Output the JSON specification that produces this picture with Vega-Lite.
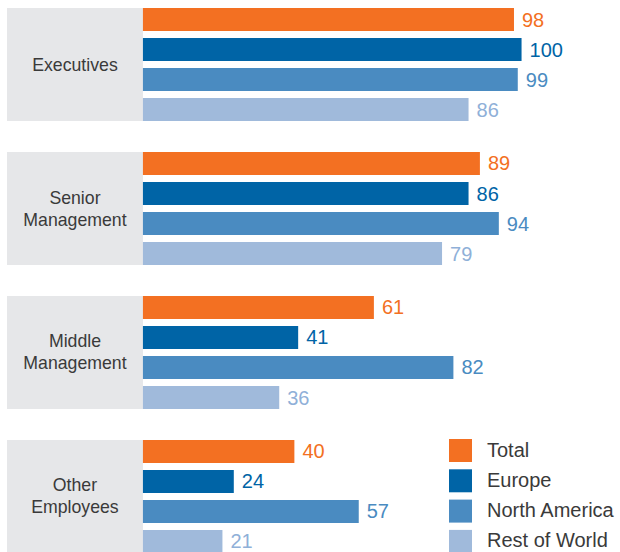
{
  "$schema": "https://vega.github.io/schema/vega-lite/v6.json",
  "width": 613,
  "height": 545,
  "autosize": {"type": "none"},
  "padding": {"left": 7, "top": 8, "right": 0, "bottom": 0},
  "background": "white",
  "config": {"view": {"stroke": null}, "font": "Liberation Sans"},
  "datasets": {
    "bars": [
      {"group": "Executives", "series": "Total", "value": 98},
      {"group": "Executives", "series": "Europe", "value": 100},
      {"group": "Executives", "series": "North America", "value": 99},
      {"group": "Executives", "series": "Rest of World", "value": 86},
      {"group": "Senior Management", "series": "Total", "value": 89},
      {"group": "Senior Management", "series": "Europe", "value": 86},
      {"group": "Senior Management", "series": "North America", "value": 94},
      {"group": "Senior Management", "series": "Rest of World", "value": 79},
      {"group": "Middle Management", "series": "Total", "value": 61},
      {"group": "Middle Management", "series": "Europe", "value": 41},
      {"group": "Middle Management", "series": "North America", "value": 82},
      {"group": "Middle Management", "series": "Rest of World", "value": 36},
      {"group": "Other Employees", "series": "Total", "value": 40},
      {"group": "Other Employees", "series": "Europe", "value": 24},
      {"group": "Other Employees", "series": "North America", "value": 57},
      {"group": "Other Employees", "series": "Rest of World", "value": 21}
    ],
    "groups": [
      {"group": "Executives", "label": "Executives", "lines": 1},
      {"group": "Senior Management", "label": "Senior\nManagement", "lines": 2},
      {"group": "Middle Management", "label": "Middle\nManagement", "lines": 2},
      {"group": "Other Employees", "label": "Other\nEmployees", "lines": 2}
    ]
  },
  "resolve": {"scale": {"color": "independent"}},
  "layer": [
    {
      "data": {"name": "groups"},
      "mark": {"type": "bar", "color": "#E6E7E9"},
      "encoding": {
        "y": {"field": "group", "type": "nominal", "sort": null, "axis": null,
              "scale": {"domain": ["Executives", "Senior Management", "Middle Management", "Other Employees"], "paddingInner": 0.215, "paddingOuter": 0}},
        "x": {"datum": -35.9, "type": "quantitative", "axis": null, "scale": {"domain": [-35.9, 126], "nice": false, "zero": false}},
        "x2": {"datum": 0}
      }
    },
    {
      "data": {"name": "groups"},
      "transform": [{"filter": "datum.lines == 1"}],
      "mark": {"type": "text", "fontSize": 17.7, "color": "#3a3a3a", "align": "center", "baseline": "middle", "dy": 1},
      "encoding": {
        "y": {"field": "group", "type": "nominal", "sort": null, "axis": null},
        "x": {"datum": -17.95, "type": "quantitative"},
        "text": {"field": "label"}
      }
    },
    {
      "data": {"name": "groups"},
      "transform": [{"filter": "datum.lines == 2"}],
      "mark": {"type": "text", "fontSize": 17.7, "color": "#3a3a3a", "lineBreak": "\n", "lineHeight": 22, "align": "center", "baseline": "middle", "dy": -10},
      "encoding": {
        "y": {"field": "group", "type": "nominal", "sort": null, "axis": null},
        "x": {"datum": -17.95, "type": "quantitative"},
        "text": {"field": "label"}
      }
    },
    {
      "data": {"name": "bars"},
      "mark": {"type": "bar"},
      "encoding": {
        "y": {"field": "group", "type": "nominal", "sort": null, "axis": null},
        "yOffset": {"field": "series", "type": "nominal", "sort": null,
                    "scale": {"domain": ["Total", "Europe", "North America", "Rest of World"], "paddingInner": 0.233, "paddingOuter": 0}},
        "x": {"field": "value", "type": "quantitative"},
        "color": {"field": "series", "type": "nominal", "sort": null,
                  "scale": {"domain": ["Total", "Europe", "North America", "Rest of World"], "range": ["#F37022", "#0064A6", "#4A8BC1", "#A0BADB"]},
                  "legend": {"title": null, "orient": "none", "legendX": 442, "legendY": 431, "symbolType": "square", "symbolSize": 529, "symbolStrokeWidth": 0, "labelFontSize": 20, "labelColor": "#3a3a3a", "labelOffset": 15, "rowPadding": 7.3, "padding": 0, "labelLimit": 300}}
      }
    },
    {
      "data": {"name": "bars"},
      "mark": {"type": "text", "align": "left", "baseline": "middle", "dx": 8, "dy": 1, "fontSize": 20},
      "encoding": {
        "y": {"field": "group", "type": "nominal", "sort": null, "axis": null},
        "yOffset": {"field": "series", "type": "nominal", "sort": null},
        "x": {"field": "value", "type": "quantitative"},
        "text": {"field": "value", "type": "quantitative"},
        "color": {"field": "series", "type": "nominal", "sort": null, "legend": null,
                  "scale": {"domain": ["Total", "Europe", "North America", "Rest of World"], "range": ["#F37022", "#0064A6", "#4A8BC1", "#8FB0D8"]}}
      }
    }
  ]
}
